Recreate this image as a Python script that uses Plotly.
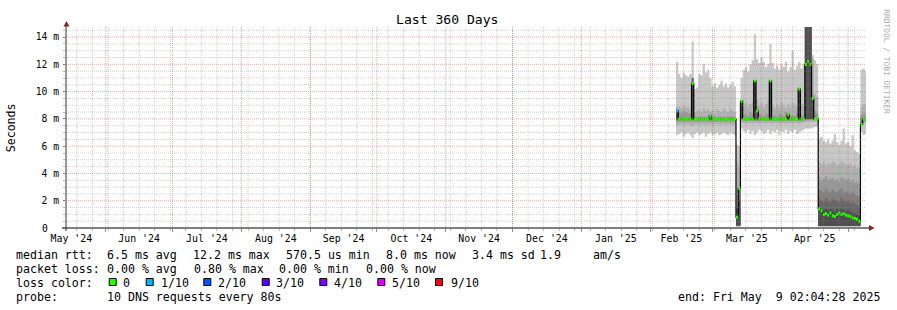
import pandas as pd
import plotly.graph_objects as go

# ------------------------------------------------------------------
# DATA  (values in milliseconds, one sample per day)
# ------------------------------------------------------------------
DATA_START = "2025-02-12 14:00"
X_START = "2024-05-14 02:04:28"
X_END = "2025-05-09 02:04:28"

median_ms = [
    8.6, 8.0, 8.0, 8.0, 8.0, 8.0, 8.0, 10.6, 8.0, 8.0, 8.0, 8.0, 8.0, 8.0,
    8.0, 8.2, 8.0, 8.0, 8.0, 8.0, 8.0, 8.0, 8.0, 8.0, 8.0, 8.0, 8.0,
    0.8, 2.9, 9.3,
    8.0, 8.0, 8.0, 8.0, 8.0, 10.8, 8.6, 8.0, 8.0, 8.0, 8.0, 8.0, 10.8, 8.0,
    8.0, 8.0, 8.0, 8.0, 8.0, 8.0, 8.3, 8.0, 8.0, 8.0, 8.0, 10.2, 8.0, 8.0,
    12.0, 12.2, 12.0, 9.5, 8.0, 8.0,
    1.4, 1.25, 1.0, 1.05, 0.95, 1.1, 0.9, 0.85, 1.0, 1.1, 1.0, 1.05, 0.95,
    0.9, 0.85, 0.75, 0.7, 0.65, 0.5,
    7.6, 8.0, 8.0,
]

loss_tenths = [
    1, 0, 0, 0, 0, 0, 0, 0, 0, 0, 0, 0, 0, 0, 0, 0, 0, 0, 0, 0, 0, 0, 0, 0, 0, 0, 0,
    0, 0, 0,
    0, 0, 0, 0, 0, 0, 0, 0, 0, 0, 0, 0, 0, 0, 0, 0, 0, 0, 0, 0, 0, 0, 0, 0, 0, 0, 0, 0,
    0, 0, 0, 0, 0, 0,
    0, 0, 0, 0, 0, 0, 0, 0, 0, 0, 0, 0, 0, 0, 0, 0, 0, 0, 0,
    0, 0, 0,
]

# smoke bands (outer -> inner), upper and lower edges
smoke1_hi = [
    12.2, 11.3, 11.0, 11.4, 11.2, 11.1, 11.3, 13.7, 10.2, 10.3, 11.3, 11.2, 12.0, 11.4,
    11.6, 11.0, 10.4, 10.6, 10.3, 10.5, 10.8, 10.4, 10.6, 10.3, 10.5, 10.7, 10.4,
    6.1, 6.0, 11.0,
    11.6, 11.8, 11.5, 12.0, 12.3, 14.2, 12.4, 12.1, 12.5, 12.2, 11.8, 12.0, 13.5, 12.1,
    11.7, 11.9, 11.6, 12.0, 11.8, 12.2, 11.5, 11.8, 13.0, 11.6, 11.9, 12.2, 11.7, 12.0,
    14.8, 14.8, 14.8, 12.7, 12.3, 12.0,
    6.6, 6.7, 6.4, 6.3, 6.5, 6.2, 6.4, 6.9, 6.3, 6.1, 6.4, 7.3, 6.2, 6.3, 6.0, 6.8,
    5.7, 5.6, 5.4,
    11.6, 11.7, 11.5,
]
smoke1_lo = [
    6.8, 6.9, 7.0, 6.7, 6.9, 7.0, 6.8, 6.6, 6.9, 7.0, 6.8, 6.9, 7.0, 6.7,
    6.9, 7.0, 6.8, 6.9, 7.0, 6.8, 6.9, 7.0, 6.9, 6.8, 7.0, 6.9, 6.8,
    0.1, 0.1, 7.3,
    7.1, 7.0, 7.2, 6.9, 7.1, 6.8, 7.0, 7.2, 7.1, 6.9, 7.0, 7.2, 6.9, 7.1,
    7.0, 7.2, 6.8, 7.1, 7.0, 7.2, 6.9, 7.1, 7.0, 7.2, 6.9, 7.0, 7.1, 7.2,
    7.3, 7.3, 7.3, 7.3, 7.4, 7.4,
    0.1, 0.1, 0.1, 0.1, 0.1, 0.1, 0.1, 0.1, 0.1, 0.1, 0.1, 0.1, 0.1, 0.1, 0.1, 0.1,
    0.1, 0.1, 0.1,
    7.0, 6.8, 6.9,
]
smoke2_hi = [
    8.9, 8.9, 8.8, 9.0, 8.9, 8.8, 8.7, 10.6, 8.5, 8.6, 8.7, 8.5, 8.8, 8.6,
    8.7, 8.5, 8.6, 8.4, 8.7, 8.6, 8.5, 8.8, 8.6, 8.5, 8.7, 8.6, 8.5,
    4.8, 4.5, 9.3,
    9.0, 9.2, 8.9, 9.1, 9.3, 10.8, 9.4, 9.0, 9.2, 8.9, 9.1, 9.3, 10.8, 9.0,
    8.8, 9.1, 8.9, 9.2, 9.0, 8.8, 9.1, 8.9, 9.2, 9.0, 8.9, 10.2, 9.1, 9.0,
    14.8, 14.8, 14.8, 12.4, 9.8, 9.6,
    4.8, 4.7, 4.9, 4.6, 4.8, 4.7, 4.9, 4.8, 4.6, 4.7, 4.9, 4.8, 4.7, 4.6, 4.8, 4.5,
    4.6, 4.4, 4.5,
    8.9, 9.1, 9.0,
]
smoke2_lo = [
    7.5, 7.6, 7.6, 7.5, 7.6, 7.6, 7.5, 7.5, 7.6, 7.6, 7.5, 7.6, 7.6, 7.5,
    7.6, 7.6, 7.5, 7.6, 7.6, 7.5, 7.6, 7.6, 7.5, 7.6, 7.6, 7.5, 7.6,
    0.12, 0.12, 7.8,
    7.7, 7.6, 7.7, 7.7, 7.6, 7.7, 7.7, 7.6, 7.7, 7.7, 7.6, 7.7, 7.7, 7.6,
    7.7, 7.7, 7.6, 7.7, 7.7, 7.6, 7.7, 7.7, 7.6, 7.7, 7.7, 7.6, 7.7, 7.7,
    7.8, 7.8, 7.8, 7.8, 7.8, 7.8,
    0.12, 0.12, 0.12, 0.12, 0.12, 0.12, 0.12, 0.12, 0.12, 0.12, 0.12, 0.12, 0.12,
    0.12, 0.12, 0.12, 0.12, 0.12, 0.12,
    7.5, 7.7, 7.7,
]
smoke3_hi = [
    8.5, 8.5, 8.4, 8.6, 8.5, 8.4, 8.4, 10.6, 8.2, 8.1, 8.2, 8.1, 8.2, 8.1,
    8.2, 8.3, 8.1, 8.2, 8.1, 8.2, 8.1, 8.2, 8.1, 8.2, 8.1, 8.2, 8.1,
    1.6, 3.0, 9.3,
    8.3, 8.4, 8.2, 8.5, 8.4, 10.8, 8.9, 8.4, 8.3, 8.2, 8.4, 8.3, 10.8, 8.2,
    8.3, 8.2, 8.4, 8.3, 8.2, 8.5, 8.4, 8.2, 8.3, 8.2, 8.4, 10.2, 8.3, 8.2,
    14.8, 14.8, 14.8, 9.8, 8.6, 8.4,
    3.7, 3.5, 3.6, 3.8, 3.5, 3.6, 3.7, 3.5, 3.6, 3.4, 3.7, 3.6, 3.5, 3.6, 3.4, 3.5,
    3.3, 3.4, 3.2,
    8.3, 8.4, 8.3,
]
smoke3_lo = [
    7.8, 7.8, 7.8, 7.8, 7.8, 7.8, 7.8, 7.8, 7.8, 7.8, 7.8, 7.8, 7.8, 7.8,
    7.8, 7.8, 7.8, 7.8, 7.8, 7.8, 7.8, 7.8, 7.8, 7.8, 7.8, 7.8, 7.8,
    0.14, 0.14, 8.0,
    7.85, 7.85, 7.85, 7.85, 7.85, 7.85, 7.85, 7.85, 7.85, 7.85, 7.85, 7.85, 7.85, 7.85,
    7.85, 7.85, 7.85, 7.85, 7.85, 7.85, 7.85, 7.85, 7.85, 7.85, 7.85, 7.85, 7.85, 7.85,
    7.9, 7.9, 7.9, 7.9, 7.9, 7.9,
    0.14, 0.14, 0.14, 0.14, 0.14, 0.14, 0.14, 0.14, 0.14, 0.14, 0.14, 0.14, 0.14,
    0.14, 0.14, 0.14, 0.14, 0.14, 0.14,
    7.6, 7.8, 7.8,
]
smoke4_hi = [
    8.1, 8.1, 8.1, 8.1, 8.1, 8.1, 8.1, 10.6, 8.1, 8.1, 8.1, 8.1, 8.1, 8.1,
    8.1, 8.1, 8.1, 8.1, 8.1, 8.1, 8.1, 8.1, 8.1, 8.1, 8.1, 8.1, 8.1,
    1.5, 2.9, 9.3,
    8.1, 8.1, 8.1, 8.1, 8.1, 10.8, 8.7, 8.1, 8.1, 8.1, 8.1, 8.1, 10.8, 8.1,
    8.1, 8.1, 8.1, 8.1, 8.1, 8.1, 8.4, 8.1, 8.1, 8.1, 8.1, 10.2, 8.1, 8.1,
    14.8, 14.8, 14.8, 9.5, 8.2, 8.1,
    2.8, 2.7, 2.6, 2.9, 2.7, 2.6, 2.8, 2.7, 2.6, 2.8, 2.9, 2.6, 2.7, 2.6, 2.5, 2.7,
    2.5, 2.4, 2.3,
    8.0, 8.1, 8.1,
]
smoke4_lo = [
    7.9, 7.9, 7.9, 7.9, 7.9, 7.9, 7.9, 7.9, 7.9, 7.9, 7.9, 7.9, 7.9, 7.9,
    7.9, 7.9, 7.9, 7.9, 7.9, 7.9, 7.9, 7.9, 7.9, 7.9, 7.9, 7.9, 7.9,
    0.15, 0.15, 8.0,
    7.9, 7.9, 7.9, 7.9, 7.9, 7.9, 7.9, 7.9, 7.9, 7.9, 7.9, 7.9, 7.9, 7.9,
    7.9, 7.9, 7.9, 7.9, 7.9, 7.9, 7.9, 7.9, 7.9, 7.9, 7.9, 7.9, 7.9, 7.9,
    8.0, 8.0, 8.0, 8.0, 8.0, 8.0,
    0.15, 0.15, 0.15, 0.15, 0.15, 0.15, 0.15, 0.15, 0.15, 0.15, 0.15, 0.15, 0.15,
    0.15, 0.15, 0.15, 0.15, 0.15, 0.15,
    7.6, 7.9, 7.9,
]
smoke5_hi = [
    8.6, 8.0, 8.0, 8.0, 8.0, 8.0, 8.0, 11.0, 8.0, 8.0, 8.0, 8.0, 8.0, 8.0,
    8.0, 8.3, 8.0, 8.0, 8.0, 8.0, 8.0, 8.0, 8.0, 8.0, 8.0, 8.0, 8.0,
    1.4, 2.9, 9.3,
    8.0, 8.0, 8.0, 8.0, 8.0, 10.8, 8.6, 8.0, 8.0, 8.0, 8.0, 8.0, 10.8, 8.0,
    8.0, 8.0, 8.0, 8.0, 8.0, 8.0, 8.4, 8.0, 8.0, 8.0, 8.0, 10.2, 8.0, 8.0,
    14.8, 14.8, 14.8, 9.5, 8.0, 8.0,
    2.1, 2.0, 1.9, 2.2, 2.0, 1.9, 2.1, 2.0, 2.0, 1.9, 2.2, 2.0, 1.9, 2.0, 1.8, 1.9,
    1.8, 1.7, 1.6,
    7.8, 8.0, 8.0,
]
smoke5_lo = [
    8.0, 8.0, 8.0, 8.0, 8.0, 8.0, 8.0, 8.0, 8.0, 8.0, 8.0, 8.0, 8.0, 8.0,
    8.0, 8.0, 8.0, 8.0, 8.0, 8.0, 8.0, 8.0, 8.0, 8.0, 8.0, 8.0, 8.0,
    0.17, 0.17, 8.0,
    8.0, 8.0, 8.0, 8.0, 8.0, 8.0, 8.0, 8.0, 8.0, 8.0, 8.0, 8.0, 8.0, 8.0,
    8.0, 8.0, 8.0, 8.0, 8.0, 8.0, 8.0, 8.0, 8.0, 8.0, 8.0, 8.0, 8.0, 8.0,
    8.0, 8.0, 8.0, 8.0, 8.0, 8.0,
    0.17, 0.17, 0.17, 0.17, 0.17, 0.17, 0.17, 0.17, 0.17, 0.17, 0.17, 0.17, 0.17,
    0.17, 0.17, 0.17, 0.17, 0.17, 0.17,
    7.6, 8.0, 8.0,
]
smoke6_hi = [
    8.6, 8.0, 8.0, 8.0, 8.0, 8.0, 8.0, 10.6, 8.0, 8.0, 8.0, 8.0, 8.0, 8.0,
    8.0, 8.0, 8.0, 8.0, 8.0, 8.0, 8.0, 8.0, 8.0, 8.0, 8.0, 8.0, 8.0,
    1.0, 2.0, 9.2,
    8.0, 8.0, 8.0, 8.0, 8.0, 10.8, 8.0, 8.0, 8.0, 8.0, 8.0, 8.0, 10.8, 8.0,
    8.0, 8.0, 8.0, 8.0, 8.0, 8.0, 8.3, 8.0, 8.0, 8.0, 8.0, 10.2, 8.0, 8.0,
    14.8, 14.8, 14.8, 9.5, 8.0, 8.0,
    1.5, 1.4, 1.3, 1.4, 1.3, 1.4, 1.3, 1.2, 1.4, 1.3, 1.4, 1.3, 1.2, 1.3, 1.2, 1.1,
    1.1, 1.0, 0.9,
    7.7, 8.0, 8.0,
]
smoke6_lo = [
    8.0, 8.0, 8.0, 8.0, 8.0, 8.0, 8.0, 8.0, 8.0, 8.0, 8.0, 8.0, 8.0, 8.0,
    8.0, 8.0, 8.0, 8.0, 8.0, 8.0, 8.0, 8.0, 8.0, 8.0, 8.0, 8.0, 8.0,
    0.2, 0.2, 8.0,
    8.0, 8.0, 8.0, 8.0, 8.0, 8.0, 8.0, 8.0, 8.0, 8.0, 8.0, 8.0, 8.0, 8.0,
    8.0, 8.0, 8.0, 8.0, 8.0, 8.0, 8.0, 8.0, 8.0, 8.0, 8.0, 8.0, 8.0, 8.0,
    8.0, 8.0, 8.0, 8.0, 8.0, 8.0,
    0.15, 0.15, 0.15, 0.15, 0.15, 0.15, 0.15, 0.15, 0.15, 0.15, 0.15, 0.15, 0.15,
    0.15, 0.15, 0.15, 0.15, 0.15, 0.15,
    7.6, 8.0, 8.0,
]

y_tick_vals = [2, 4, 6, 8, 10, 12, 14]
y_tick_text = ["2 m", "4 m", "6 m", "8 m", "10 m", "12 m", "14 m"]
y_zero_label = "0"

loss_levels = [0, 1, 2, 3, 4, 5, 9]
loss_labels = ["0", "1/10", "2/10", "3/10", "4/10", "5/10", "9/10"]
loss_colors = ["#26ff00", "#00b8ff", "#0059ff", "#5e00ff", "#7e00ff", "#dd00ff", "#ff0000"]

smoke_colors = ["#c8c8c8", "#b1b1b1", "#989898", "#808080", "#676767", "#4e4e4e"]

# ------------------------------------------------------------------
# LAYOUT CONSTANTS (pixels)
# ------------------------------------------------------------------
W, H = 897, 310
L, R, T, B = 66, 31, 27, 82
PW, PH = W - L - R, H - T - B
Y_MAX = 14.74
FONT = "DejaVu Sans Mono"
MGRID = "rgba(210,50,50,0.42)"
GRID = "rgba(140,140,140,0.40)"
ARROW = "#8b2020"


def pxx(xp):
    return (xp - L) / PW


def pxy(yp):
    return (T + PH - yp) / PH


n = len(median_ms)
for arr in [loss_tenths, smoke1_hi, smoke1_lo, smoke2_hi, smoke2_lo, smoke3_hi, smoke3_lo,
            smoke4_hi, smoke4_lo, smoke5_hi, smoke5_lo, smoke6_hi, smoke6_lo]:
    assert len(arr) == n, len(arr)

times = list(pd.date_range(DATA_START, periods=n, freq="D"))
x_ext = times + [pd.Timestamp(X_END)]


def ext(vals):
    return list(vals) + [vals[-1]]


fig = go.Figure()

bands = [(smoke1_lo, smoke1_hi), (smoke2_lo, smoke2_hi), (smoke3_lo, smoke3_hi),
         (smoke4_lo, smoke4_hi), (smoke5_lo, smoke5_hi), (smoke6_lo, smoke6_hi)]
for (lo, hi), col in zip(bands, smoke_colors):
    fig.add_trace(go.Scatter(x=x_ext, y=ext(lo), mode="lines", line=dict(width=0, shape="hv"),
                             hoverinfo="skip", showlegend=False))
    fig.add_trace(go.Scatter(x=x_ext, y=ext(hi), mode="lines", line=dict(width=0, shape="hv"),
                             fill="tonexty", fillcolor=col, hoverinfo="skip", showlegend=False))

# thin black median
fig.add_trace(go.Scatter(x=x_ext, y=ext(median_ms), mode="lines",
                         line=dict(color="#000000", width=1.2, shape="hv"),
                         hoverinfo="skip", showlegend=False))

# loss-coloured median segments
for lv, col in zip(loss_levels, loss_colors):
    xs, ys = [], []
    for k in range(n):
        if loss_tenths[k] == lv:
            xs += [x_ext[k], x_ext[k + 1], None]
            ys += [median_ms[k], median_ms[k], None]
    if xs:
        fig.add_trace(go.Scatter(x=xs, y=ys, mode="lines", line=dict(color=col, width=3),
                                 hoverinfo="skip", showlegend=False))

shapes = []
# grid drawn above data (rrdtool style)
for d in pd.date_range("2024-05-19", X_END, freq="7D"):
    shapes.append(dict(type="line", xref="x", yref="paper", x0=d, x1=d, y0=0, y1=1,
                       line=dict(color=GRID, width=1, dash="1px,1px"), layer="above"))
for i in range(1, 30):
    v = i * 0.5
    if v % 2 != 0:
        shapes.append(dict(type="line", xref="paper", yref="y", x0=0, x1=1, y0=v, y1=v,
                           line=dict(color=GRID, width=1, dash="1px,1px"), layer="above"))
for d in pd.date_range("2024-06-01", X_END, freq="MS"):
    shapes.append(dict(type="line", xref="x", yref="paper", x0=d, x1=d, y0=0, y1=1,
                       line=dict(color=MGRID, width=1, dash="1px,1px"), layer="above"))
for v in y_tick_vals:
    shapes.append(dict(type="line", xref="paper", yref="y", x0=0, x1=1, y0=v, y1=v,
                       line=dict(color=MGRID, width=1, dash="1px,1px"), layer="above"))

# axes + arrows
shapes.append(dict(type="line", xref="paper", yref="paper", x0=pxx(62), x1=pxx(869),
                   y0=pxy(228), y1=pxy(228), line=dict(color="#000000", width=1), layer="above"))
shapes.append(dict(type="line", xref="paper", yref="paper", x0=pxx(66), x1=pxx(66),
                   y0=pxy(231), y1=pxy(25), line=dict(color="#333333", width=1), layer="above"))
shapes.append(dict(type="path", xref="paper", yref="paper",
                   path="M {} {} L {} {} L {} {} Z".format(pxx(63.5), pxy(26.5), pxx(66.5), pxy(21),
                                                          pxx(69.5), pxy(26.5)),
                   fillcolor=ARROW, line=dict(width=0), layer="above"))
shapes.append(dict(type="path", xref="paper", yref="paper",
                   path="M {} {} L {} {} L {} {} Z".format(pxx(869), pxy(225), pxx(874.5), pxy(228),
                                                          pxx(869), pxy(231)),
                   fillcolor=ARROW, line=dict(width=0), layer="above"))

# loss colour boxes
box_left = [108.7, 145.7, 203.3, 261.7, 319.3, 377.3, 435.0]
for bx, col in zip(box_left, loss_colors):
    shapes.append(dict(type="rect", xref="paper", yref="paper", x0=pxx(bx + 0.5), x1=pxx(bx + 7.5),
                       y0=pxy(278.5), y1=pxy(285.5), fillcolor=col,
                       line=dict(color="#000000", width=1)))

annotations = []


def txt(s, xp, yp, size=11.6, anchor="left", color="#000000", angle=0):
    annotations.append(dict(text=s.replace(" ", "\u00a0"), x=pxx(xp), y=pxy(yp), xref="paper",
                            yref="paper", xanchor=anchor, yanchor="middle", showarrow=False,
                            textangle=angle, borderpad=0, borderwidth=0,
                            font=dict(family=FONT, size=size, color=color)))


txt("Last 360 Days", 447.2, 19.5, size=13.1, anchor="center")
txt("Seconds", 10.8, 127.5, size=11.6, anchor="center", angle=-90)
txt("RRDTOOL / TOBI OETIKER", 886.7, 62, size=7.9, anchor="center", color="#aaaaaa", angle=90)
# zero label of the y axis (rrdtool pads it, so it sits under the digit column)
txt(y_zero_label, 45.0, 228.3, size=9.7, anchor="center")

LY = [255, 269, 283, 297]
for s, xp in [("median rtt:", 16), ("6.5 ms avg", 107.3), ("12.2 ms max", 193.3),
              ("570.5 us min", 286), ("8.0 ms now", 386), ("3.4 ms sd", 472),
              ("1.9", 540), ("am/s", 593.3)]:
    txt(s, xp, LY[0])
for s, xp in [("packet loss:", 16), ("0.00 % avg", 107.3), ("0.80 % max", 194),
              ("0.00 % min", 279.3), ("0.00 % now", 365.7)]:
    txt(s, xp, LY[1])
txt("loss color:", 16, LY[2])
for s, xp in zip(loss_labels, [123.3, 160.7, 218.3, 276, 334, 392, 450.7]):
    txt(s, xp, LY[2])
txt("probe:", 16, LY[3])
txt("10 DNS requests every 80s", 107.3, LY[3])
txt("end: Fri May  9 02:04:28 2025", 880, LY[3], anchor="right")

fig.update_layout(
    width=W, height=H, autosize=False,
    margin=dict(l=L, r=R, t=T, b=B, pad=0),
    paper_bgcolor="#ffffff", plot_bgcolor="#ffffff",
    font=dict(family=FONT, color="#000000"),
    showlegend=False, hovermode=False,
    shapes=shapes, annotations=annotations,
    xaxis=dict(type="date", range=[X_START, X_END], showgrid=False, zeroline=False,
               showline=False, tickmode="linear", tick0="2024-06-01", dtick="M1",
               ticklabelmode="period", tickformat="%b '%y", ticks="outside", ticklen=3,
               ticklabelstandoff=-2,
               tickcolor="rgba(210,50,50,0.7)", tickfont=dict(family=FONT, size=9.9, color="#000000"),
               minor=dict(tick0="2024-05-19", dtick=7 * 86400000, ticks="outside", ticklen=2,
                          tickcolor="rgba(140,140,140,0.6)", showgrid=False)),
    yaxis=dict(range=[0, Y_MAX], showgrid=False, zeroline=False, showline=False,
               tickmode="array", tickvals=y_tick_vals, ticktext=y_tick_text,
               ticks="outside", ticklen=2, tickcolor="rgba(210,50,50,0.7)",
               ticklabelstandoff=2,
               tickfont=dict(family=FONT, size=9.7, color="#000000"),
               minor=dict(tick0=0, dtick=0.5, ticks="outside", ticklen=2,
                          tickcolor="rgba(140,140,140,0.6)", showgrid=False)),
)

fig.write_html("out.html")
